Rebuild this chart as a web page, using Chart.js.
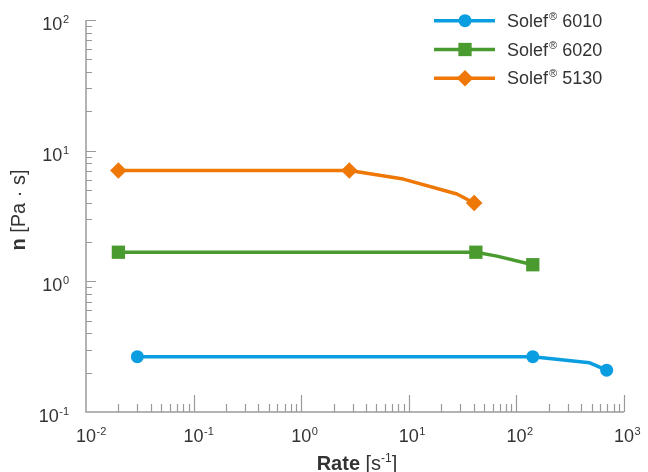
<!DOCTYPE html>
<html><head><meta charset="utf-8">
<script src="https://cdn.jsdelivr.net/npm/chart.js@4/dist/chart.umd.min.js"></script>
<style>html,body{margin:0;padding:0;background:#fff}#wrap{width:648px;height:472px;position:relative}</style>
</head><body><div id="wrap"><canvas id="c" width="648" height="472"></canvas></div>
<script>
// ---- data ----
const seriesLabels = ['Solef® 6010', 'Solef® 6020', 'Solef® 5130'];
const rate6010 = [0.03, 142, 480, 690];
const visc6010 = [0.265, 0.265, 0.238, 0.209];
const mark6010 = [1, 1, 0, 1];
const rate6020 = [0.02, 42, 66, 142];
const visc6020 = [1.67, 1.67, 1.56, 1.34];
const mark6020 = [1, 1, 0, 1];
const rate5130 = [0.02, 2.8, 8.9, 28, 40.5];
const visc5130 = [7.05, 7.05, 6.06, 4.66, 3.98];
const mark5130 = [1, 1, 0, 0, 1];
const xTickExps = [-2, -1, 0, 1, 2, 3];
const yTickExps = [-1, 0, 1, 2];

// ---- styles ----
const FONT = '"Liberation Sans", Arial, sans-serif';
const TEXT = '#333333';
const AXIS = '#9a9a9a';
const colors = ['#0a9de0', '#4a9b2f', '#ee7706'];
const styles = ['circle', 'rect', 'rectRot'];
const radii = [6.5, 9.4, 8.3];

function pts(xs, ys) { return xs.map((x, i) => ({ x: x, y: ys[i] })); }
const raw = [[rate6010, visc6010, mark6010], [rate6020, visc6020, mark6020], [rate5130, visc5130, mark5130]];
const datasets = raw.map((r, i) => ({
  label: seriesLabels[i],
  data: pts(r[0], r[1]),
  borderColor: colors[i],
  backgroundColor: colors[i],
  borderWidth: 3.5,
  borderJoinStyle: 'round',
  borderCapStyle: 'round',
  tension: 0,
  pointStyle: styles[i],
  pointRadius: r[2].map(m => m ? radii[i] : 0),
  pointHoverRadius: r[2].map(m => m ? radii[i] : 0),
  pointBorderWidth: 0,
  pointBackgroundColor: colors[i],
  clip: false
}));

function drawPow(ctx, exp, x, baseline, mode) {
  const base = '10', e = String(exp).replace('-', '-');
  ctx.font = '18px ' + FONT;
  const wb = ctx.measureText(base).width;
  ctx.font = '11px ' + FONT;
  const we = ctx.measureText(e).width;
  let bx;
  if (mode === 'right') bx = x - we - wb - 0.5;
  else bx = x - wb / 2;
  ctx.fillStyle = TEXT;
  ctx.textAlign = 'left';
  ctx.textBaseline = 'alphabetic';
  ctx.font = '18px ' + FONT;
  ctx.fillText(base, bx, baseline);
  ctx.font = '11px ' + FONT;
  ctx.fillText(e, bx + wb + 0.5, baseline - 7);
}

const axesPlugin = {
  id: 'axesPlugin',
  beforeDatasetsDraw(chart) {
    const ctx = chart.ctx, a = chart.chartArea;
    const xs = chart.scales.x, ys = chart.scales.y;
    ctx.save();
    ctx.strokeStyle = AXIS;
    ctx.lineWidth = 1.5;
    ctx.beginPath();
    ctx.moveTo(a.left, a.top); ctx.lineTo(a.left, a.bottom); ctx.lineTo(a.right, a.bottom);
    ctx.stroke();
    ctx.lineWidth = 1.2;
    ctx.beginPath();
    // x ticks
    for (let e = xTickExps[0]; e <= xTickExps[xTickExps.length - 1]; e++) {
      for (let k = 1; k <= 9; k++) {
        const v = k * Math.pow(10, e);
        if (v > xs.max * 1.0001) break;
        if (v < xs.min * 0.9999) continue;
        const px = Math.round(xs.getPixelForValue(v)) + 0.5;
        const len = k === 1 ? 17 : 8;
        if (k === 1 && e === xTickExps[0]) continue;
        ctx.moveTo(px, a.bottom); ctx.lineTo(px, a.bottom - len);
      }
    }
    // y ticks
    for (let e = yTickExps[0]; e <= yTickExps[yTickExps.length - 1]; e++) {
      for (let k = 1; k <= 9; k++) {
        const v = k * Math.pow(10, e);
        if (v > ys.max * 1.0001) break;
        if (k === 1 && e === yTickExps[0]) continue;
        const py = Math.round(ys.getPixelForValue(v)) + 0.5;
        const len = k === 1 ? 10 : 6;
        ctx.moveTo(a.left, py); ctx.lineTo(a.left + len, py);
      }
    }
    ctx.stroke();
    // tick labels
    xTickExps.forEach(e => {
      drawPow(ctx, e, xs.getPixelForValue(Math.pow(10, e)), a.bottom + 30, 'center');
    });
    yTickExps.forEach(e => {
      drawPow(ctx, e, a.left - 17, ys.getPixelForValue(Math.pow(10, e)) + 10, 'right');
    });
    // x title
    ctx.fillStyle = TEXT;
    ctx.textBaseline = 'alphabetic';
    ctx.textAlign = 'left';
    const p1 = 'Rate', p2 = ' [s', p3 = '-1', p4 = ']';
    ctx.font = 'bold 20px ' + FONT; const w1 = ctx.measureText(p1).width;
    ctx.font = '20px ' + FONT; const w2 = ctx.measureText(p2).width; const w4 = ctx.measureText(p4).width;
    ctx.font = '12px ' + FONT; const w3 = ctx.measureText(p3).width;
    let tx = (a.left + a.right) / 2 + 2 - (w1 + w2 + w3 + w4) / 2;
    const tb = 470;
    ctx.font = 'bold 20px ' + FONT; ctx.fillText(p1, tx, tb); tx += w1;
    ctx.font = '20px ' + FONT; ctx.fillText(p2, tx, tb); tx += w2;
    ctx.font = '12px ' + FONT; ctx.fillText(p3, tx, tb - 8); tx += w3;
    ctx.font = '20px ' + FONT; ctx.fillText(p4, tx, tb);
    // y title
    ctx.save();
    ctx.translate(25, 210);
    ctx.rotate(-Math.PI / 2);
    const q1 = 'n', q2 = ' [Pa · s]';
    ctx.font = 'bold 20px ' + FONT; const v1 = ctx.measureText(q1).width;
    ctx.font = '20px ' + FONT; const v2 = ctx.measureText(q2).width;
    let qx = -(v1 + v2) / 2;
    ctx.font = 'bold 20px ' + FONT; ctx.fillText(q1, qx, 0); qx += v1;
    ctx.font = '20px ' + FONT; ctx.fillText(q2, qx, 0);
    ctx.restore();
    ctx.restore();
  },
  afterDraw(chart) {
    const ctx = chart.ctx;
    ctx.save();
    chart.data.datasets.forEach((ds, i) => {
      const y = 20.7 + i * 28.8;
      ctx.strokeStyle = ds.borderColor;
      ctx.lineWidth = 3.5;
      ctx.beginPath(); ctx.moveTo(434, y); ctx.lineTo(495, y); ctx.stroke();
      ctx.fillStyle = ds.borderColor;
      Chart.helpers.drawPoint(ctx, { pointStyle: styles[i], radius: radii[i], rotation: 0, borderWidth: 0 }, 465, y);
      const parts = ds.label.split('®');
      ctx.fillStyle = TEXT;
      ctx.textAlign = 'left'; ctx.textBaseline = 'alphabetic';
      let x = 507;
      ctx.font = '18px ' + FONT; ctx.fillText(parts[0], x, y + 6); x += ctx.measureText(parts[0]).width + 1;
      ctx.font = '11px ' + FONT; ctx.fillText('®', x, y - 1); x += ctx.measureText('®').width;
      ctx.font = '18px ' + FONT; ctx.fillText(parts[1], x, y + 6);
    });
    ctx.restore();
  }
};

new Chart(document.getElementById('c'), {
  type: 'line',
  data: { datasets: datasets },
  options: {
    responsive: false,
    animation: false,
    events: [],
    layout: { padding: { left: 86, right: 24, top: 20, bottom: 60 } },
    plugins: { legend: { display: false }, tooltip: { enabled: false } },
    scales: {
      x: { type: 'logarithmic', min: 0.01, max: 1000, display: true,
           ticks: { display: false }, grid: { display: false, drawTicks: false }, border: { display: false } },
      y: { type: 'logarithmic', min: 0.1, max: 100, display: true,
           ticks: { display: false }, grid: { display: false, drawTicks: false }, border: { display: false } }
    }
  },
  plugins: [axesPlugin]
});
</script>
</body></html>
